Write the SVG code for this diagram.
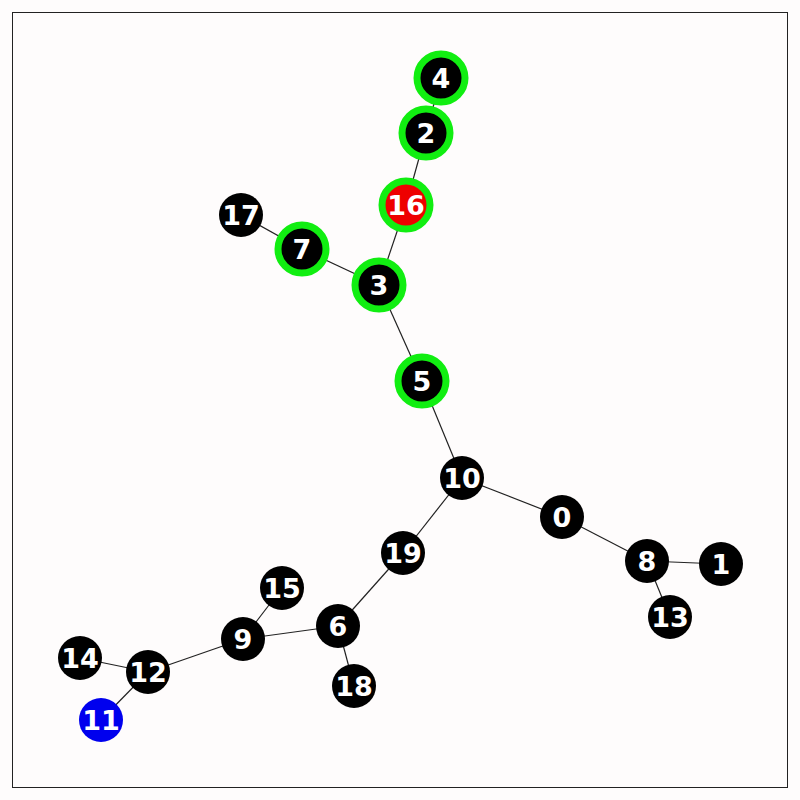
<svg xmlns="http://www.w3.org/2000/svg" width="800" height="800" viewBox="0 0 800 800">
<style>
.bg{fill:#fefcfc}
.frame{fill:none;stroke:#222;stroke-width:1}
.e{stroke:#222;stroke-width:1.2;fill:none}
.n{fill:#000}
.g{fill:#000;stroke:#11ee11;stroke-width:7}
.r{fill:#ee0000;stroke:#11ee11;stroke-width:7}
.b{fill:#0000ee}
text{font-family:"DejaVu Sans",sans-serif;font-weight:bold;font-size:27px;fill:#fff;text-anchor:middle;dominant-baseline:central}
</style>
<rect class="bg" x="0" y="0" width="800" height="800"/>
<rect class="frame" x="12.5" y="12.5" width="775" height="775"/>
<g id="edges">
<line class="e" x1="441" y1="78" x2="426" y2="133"/>
<line class="e" x1="426" y1="133" x2="406" y2="205"/>
<line class="e" x1="406" y1="205" x2="379" y2="285"/>
<line class="e" x1="241" y1="215" x2="302" y2="249"/>
<line class="e" x1="302" y1="249" x2="379" y2="285"/>
<line class="e" x1="379" y1="285" x2="422" y2="381"/>
<line class="e" x1="422" y1="381" x2="462" y2="478"/>
<line class="e" x1="462" y1="478" x2="562" y2="517"/>
<line class="e" x1="562" y1="517" x2="647" y2="561"/>
<line class="e" x1="647" y1="561" x2="721" y2="564"/>
<line class="e" x1="647" y1="561" x2="670" y2="617"/>
<line class="e" x1="462" y1="478" x2="403" y2="553"/>
<line class="e" x1="403" y1="553" x2="338" y2="626"/>
<line class="e" x1="338" y1="626" x2="354" y2="686"/>
<line class="e" x1="338" y1="626" x2="243" y2="639"/>
<line class="e" x1="243" y1="639" x2="282" y2="588"/>
<line class="e" x1="243" y1="639" x2="148" y2="672"/>
<line class="e" x1="148" y1="672" x2="80" y2="658"/>
<line class="e" x1="148" y1="672" x2="101" y2="720"/>
</g>
<g id="n4"><circle class="g" cx="441" cy="78" r="24"/><text x="441" y="78">4</text></g>
<g id="n2"><circle class="g" cx="426" cy="133" r="24"/><text x="426" y="133">2</text></g>
<g id="n16"><circle class="r" cx="406" cy="205" r="24"/><text x="406" y="205">16</text></g>
<g id="n7"><circle class="g" cx="302" cy="249" r="24"/><text x="302" y="249">7</text></g>
<g id="n3"><circle class="g" cx="379" cy="285" r="24"/><text x="379" y="285">3</text></g>
<g id="n5"><circle class="g" cx="422" cy="381" r="24"/><text x="422" y="381">5</text></g>
<g id="n17"><circle class="n" cx="241" cy="215" r="22"/><text x="241" y="215">17</text></g>
<g id="n10"><circle class="n" cx="462" cy="478" r="22"/><text x="462" y="478">10</text></g>
<g id="n0"><circle class="n" cx="562" cy="517" r="22"/><text x="562" y="517">0</text></g>
<g id="n8"><circle class="n" cx="647" cy="561" r="22"/><text x="647" y="561">8</text></g>
<g id="n1"><circle class="n" cx="721" cy="564" r="22"/><text x="721" y="564">1</text></g>
<g id="n13"><circle class="n" cx="670" cy="617" r="22"/><text x="670" y="617">13</text></g>
<g id="n19"><circle class="n" cx="403" cy="553" r="22"/><text x="403" y="553">19</text></g>
<g id="n6"><circle class="n" cx="338" cy="626" r="22"/><text x="338" y="626">6</text></g>
<g id="n15"><circle class="n" cx="282" cy="588" r="22"/><text x="282" y="588">15</text></g>
<g id="n18"><circle class="n" cx="354" cy="686" r="22"/><text x="354" y="686">18</text></g>
<g id="n9"><circle class="n" cx="243" cy="639" r="22"/><text x="243" y="639">9</text></g>
<g id="n12"><circle class="n" cx="148" cy="672" r="22"/><text x="148" y="672">12</text></g>
<g id="n14"><circle class="n" cx="80" cy="658" r="22"/><text x="80" y="658">14</text></g>
<g id="n11"><circle class="b" cx="101" cy="720" r="22"/><text x="101" y="720">11</text></g>
</svg>
